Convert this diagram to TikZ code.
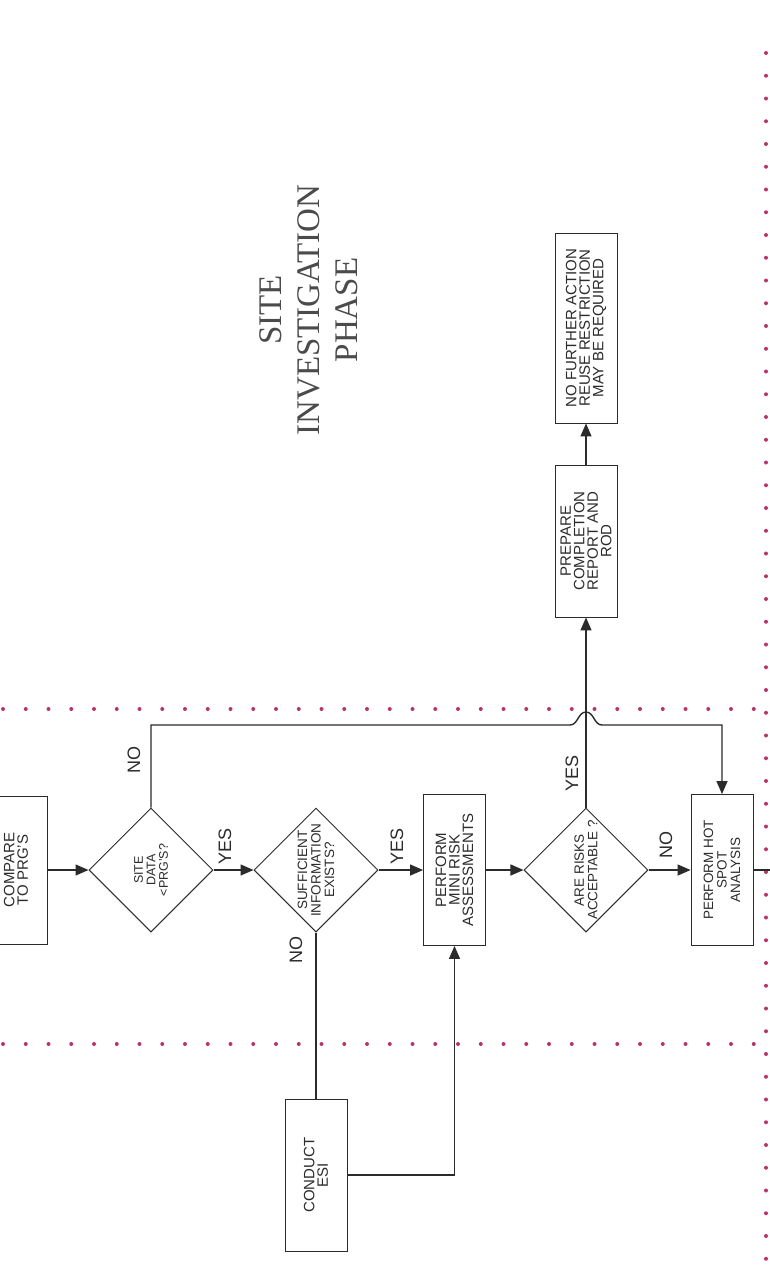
\documentclass[tikz,border=0pt]{standalone}
\usepackage{fontspec}
\setmainfont{Liberation Serif}
\setsansfont{Liberation Sans}
\usetikzlibrary{arrows.meta,shapes.geometric}
\definecolor{ink}{HTML}{2B2B2B}
\definecolor{dotred}{HTML}{B8346B}
\newcommand{\boxfont}[1]{\sffamily\fontsize{#1}{13.5}\selectfont}

\begin{document}
\begin{tikzpicture}[x=1pt, y=-1pt, >={Triangle[length=13pt,width=11pt]},
  box/.style={draw=ink, line width=0.9pt, rotate=90, align=center, minimum height=62pt, inner sep=2pt, text=ink, font=\boxfont{15}},
  dec/.style={draw=ink, line width=1pt, diamond, rotate=90, aspect=1, minimum width=124pt, minimum height=124pt, inner sep=-10pt, align=center, text=ink, font=\boxfont{13.5}},
  lbl/.style={rotate=90, inner sep=0pt, text=ink, font=\sffamily\fontsize{18}{18}\selectfont},
  ttl/.style={rotate=90, align=center, text=ink!85, font=\fontsize{33}{38}\selectfont},
  link/.style={draw=ink, line width=1.4pt},
  dots/.style={draw=dotred, line width=4pt, line cap=round, dash pattern=on 0pt off 22.75pt}]
  \useasboundingbox[fill=white] (0,0) rectangle (770,1274);
  \clip (0,0) rectangle (770,1274);
  % phase borders
  \draw[dots] (3,709) -- (766,709);
  \draw[dots] (3,1044) -- (766,1044);
  \draw[dots] (766,53) -- (766,1274);
  \node[ttl] (phase) at (309,310) {SITE\\INVESTIGATION\\PHASE};
  % main row
  \node[box, minimum width=148pt] (cmp) at (16,870) {COMPARE\\TO PRG'S};
  \node[dec, font=\sffamily\fontsize{12.5}{12.5}\selectfont] (sd) at (151,870) {SITE\\DATA\\<PRG'S?};
  \node[dec] (si) at (316,870) {SUFFICIENT\\INFORMATION\\EXISTS?};
  \node[box, minimum width=151pt] (mr) at (454.5,870) {PERFORM\\MINI RISK\\ASSESSMENTS};
  \node[dec] (ar) at (586,870) {ARE RISKS\\ACCEPTABLE ?};
  \node[box, minimum width=151pt, font=\boxfont{13.5}] (hs) at (722,870) {PERFORM HOT\\SPOT\\ANALYSIS};
  \node[box, minimum width=152pt] (esi) at (316,1175) {CONDUCT\\ESI};
  \node[box, minimum width=152pt] (prep) at (586,541) {PREPARE\\COMPLETION\\REPORT AND\\ROD};
  \node[box, minimum width=190pt] (nfa) at (586,328) {NO FURTHER ACTION\\REUSE RESTRICTION\\MAY BE REQUIRED};
  \coordinate (bus) at (0,725);
  \coordinate (offr) at (780,870);
  % connectors
  \draw[link,->] (cmp) -- (sd);
  \draw[link,->] (sd) -- (si);
  \draw[link,->] (si) -- (mr);
  \draw[link,->] (mr) -- (ar);
  \draw[link,->] (ar) -- (hs);
  \draw[link] (hs) -- (offr);
  \draw[link] (si) -- (esi);
  \draw[link,->] (esi) -| (mr);
  \draw[link,->] (ar) -- (prep);
  \draw[link,->] (prep) -- (nfa);
  \draw[link,->] (sd) -- (sd |- bus) -- (570,725)
    .. controls (578,725) and (578,712) .. (586,712)
    .. controls (594,712) and (594,725) .. (602,725) -- (hs |- bus) -- (hs);
  % answers
  \node[lbl] (no1) at (134,760) {NO};
  \node[lbl] (yes1) at (225,846) {YES};
  \node[lbl] (yes2) at (397,846) {YES};
  \node[lbl] (no2) at (296,950) {NO};
  \node[lbl] (yes3) at (572,773) {YES};
  \node[lbl] (no3) at (666,845) {NO};
\end{tikzpicture}
\end{document}
